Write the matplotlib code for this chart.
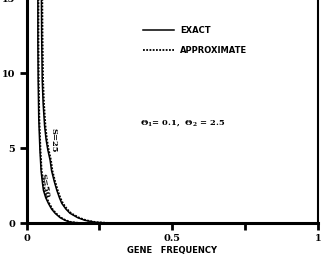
import matplotlib
matplotlib.use('Agg')
import matplotlib.pyplot as plt

# values
s25_exact_x = [0.051, 0.052, 0.054, 0.057, 0.062, 0.067, 0.073, 0.081, 0.086, 0.095, 0.104,
               0.113, 0.121, 0.135, 0.149, 0.175, 0.200, 0.235, 0.280, 0.350, 0.500, 1.000]
s25_exact_y = [15.5, 12.5, 9.5, 8.0, 6.5, 5.6, 4.9, 4.2, 3.5, 2.8, 2.2,
               1.7, 1.33, 0.95, 0.67, 0.38, 0.20, 0.07, 0.02, 0.005, 0.0, 0.0]
s25_approx_x = [0.054, 0.055, 0.057, 0.060, 0.065, 0.070, 0.076, 0.084, 0.089, 0.098, 0.107,
                0.116, 0.125, 0.139, 0.153, 0.180, 0.205, 0.240, 0.285, 0.350, 0.500, 1.000]
s25_approx_y = s25_exact_y

s50_exact_x = [0.039, 0.039, 0.040, 0.042, 0.046, 0.050, 0.054, 0.058, 0.066, 0.075, 0.086,
               0.098, 0.115, 0.132, 0.150, 0.180, 0.250, 0.500, 1.000]
s50_exact_y = [15.5, 12.0, 9.5, 7.0, 4.9, 3.5, 2.8, 2.2, 1.7, 1.33, 0.95,
               0.67, 0.38, 0.20, 0.08, 0.02, 0.0, 0.0, 0.0]
s50_approx_x = [0.041, 0.041, 0.042, 0.044, 0.048, 0.052, 0.057, 0.061, 0.069, 0.078, 0.089,
                0.101, 0.118, 0.135, 0.153, 0.183, 0.250, 0.500, 1.000]
s50_approx_y = s50_exact_y

x_ticks = [0, 0.25, 0.5, 0.75, 1]
x_tick_labels = ['0', '', '0.5', '', '1']
y_ticks = [0, 5, 10, 15]

plt.rcParams['mathtext.fontset'] = 'dejavuserif'

W, H = 324, 259
fig = plt.figure(figsize=(W / 100, H / 100), dpi=100)
ax = fig.add_axes([26.5 / W, 35.7 / H, 291.5 / W, 225.3 / H])

ax.plot(s25_exact_x, s25_exact_y, color='black', lw=1.1, label='EXACT')
ax.plot(s25_approx_x, s25_approx_y, color='black', lw=1.3, ls=(0, (1, 0.8)),
        label='APPROXIMATE', zorder=3)
ax.plot(s50_exact_x, s50_exact_y, color='black', lw=1.1)
ax.plot(s50_approx_x, s50_approx_y, color='black', lw=1.3, ls=(0, (1, 0.8)), zorder=3)

ax.set_xlim(0, 1)
ax.set_ylim(0, 15)
ax.spines['top'].set_visible(False)
ax.spines['left'].set_linewidth(2.2)
ax.spines['bottom'].set_linewidth(2.2)
ax.spines['right'].set_linewidth(1.5)
ax.set_xticks(x_ticks)
ax.set_xticklabels(x_tick_labels)
ax.set_yticks(y_ticks)
ax.tick_params(direction='out', length=5, width=2, pad=3)
for lab in ax.get_xticklabels() + ax.get_yticklabels():
    lab.set_fontfamily('DejaVu Serif')
    lab.set_fontweight('bold')
    lab.set_fontsize(7)

ax.set_xlabel('GENE   FREQUENCY', fontsize=6, fontweight='bold', labelpad=2)

ax.legend(loc='upper left', bbox_to_anchor=(0.386, 0.894), frameon=False,
          borderpad=0, handlelength=3.7, handletextpad=0.7, labelspacing=1.3,
          prop={'size': 6, 'weight': 'bold'})

ax.text(0.389, 6.68, r'$\mathbf{\Theta_1}$= 0.1,  $\mathbf{\Theta_2}$ = 2.5', fontsize=6,
        fontfamily='DejaVu Serif', fontweight='bold', ha='left', va='center')
ax.text(0.091, 5.5, 'S=25', rotation=-90, fontsize=6, fontweight='bold',
        fontfamily='DejaVu Serif', ha='center', va='center')
ax.text(0.063, 2.5, 'S=50', rotation=-80, fontsize=6, fontweight='bold',
        fontfamily='DejaVu Serif', ha='center', va='center')

fig.savefig('out.png', dpi=100)
